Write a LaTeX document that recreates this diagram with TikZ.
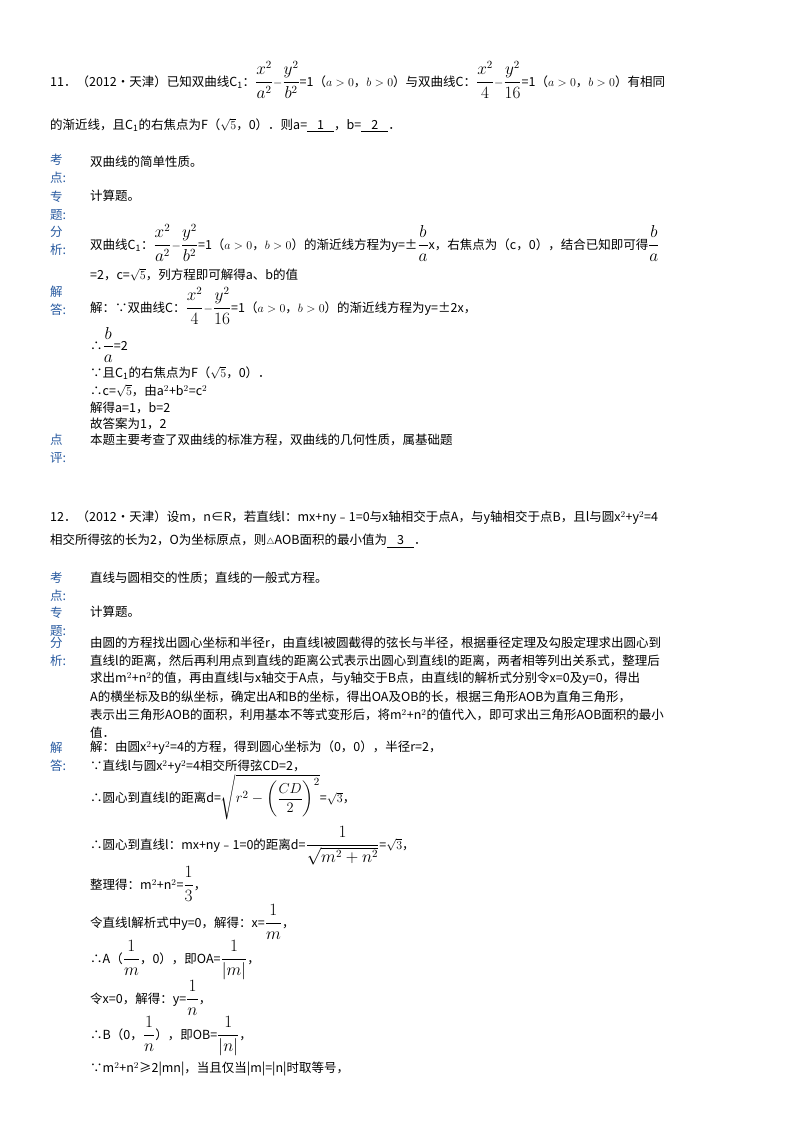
\documentclass[tikz,border=0pt]{standalone}
\usepackage{amsmath,amssymb}
\usepackage{fontspec}
\setmainfont{Noto Sans CJK SC}
\begin{document}
\begin{tikzpicture}[x=1pt,y=-1pt,
 txt/.style={anchor=west,inner sep=0pt,font=\fontsize{12.5}{15}\selectfont},
 lab/.style={anchor=west,inner sep=0pt,text=lbl,font=\fontsize{12.5}{15}\selectfont}]
\definecolor{lbl}{RGB}{40,90,160}
\useasboundingbox[fill=white] (0,0) rectangle (800,1132);
\newcommand{\ans}[1]{\underline{\hspace{10pt}#1\hspace{10pt}}}
\newcommand{\FR}[2]{{\fontsize{16}{18}\selectfont$\dfrac{#1}{#2}$}}
% Problem 11
\node[txt] (a1) at (50,80) {11．（2012•天津）已知双曲线$\mathrm{C_1}$：\FR{x^2}{a^2}$-$\FR{y^2}{b^2}=1（$a>0$，$b>0$）与双曲线$\mathrm{C}$：\FR{x^2}{4}$-$\FR{y^2}{16}=1（$a>0$，$b>0$）有相同};
\node[txt] (a2) at (50,125) {的渐近线，且$\mathrm{C_1}$的右焦点为F（$\sqrt5$，0）．则a=\ans{1}，b=\ans{2}．};
\node[lab] (k1) at (50,160) {考}; \node[lab] (k1b) at (50,178) {点:};
\node[txt] (k1t) at (90,162) {双曲线的简单性质。};
\node[lab] (z1) at (50,197) {专}; \node[lab] (z1b) at (50,215) {题:};
\node[txt] (z1t) at (90,196) {计算题。};
\node[lab] (f1) at (50,232) {分}; \node[lab] (f1b) at (50,250) {析:};
\node[txt] (f1t) at (90,243) {双曲线$\mathrm{C_1}$：\FR{x^2}{a^2}$-$\FR{y^2}{b^2}=1（$a>0$，$b>0$）的渐近线方程为y=±\FR{b}{a}x，右焦点为（c，0），结合已知即可得\FR{b}{a}};
\node[txt] (f1u) at (90,275) {=2，c=$\sqrt5$，列方程即可解得a、b的值};
\node[lab] (j1) at (50,292) {解}; \node[lab] (j1b) at (50,310) {答:};
\node[txt] (j1t) at (90,306) {解：∵双曲线C：\FR{x^2}{4}$-$\FR{y^2}{16}=1（$a>0$，$b>0$）的渐近线方程为y=±2x，};
\node[txt] (j1u) at (90,345) {∴\FR{b}{a}=2};
\node[txt] (j1v) at (90,373) {∵且$\mathrm{C_1}$的右焦点为F（$\sqrt5$，0）．};
\node[txt] (j1w) at (90,391) {∴c=$\sqrt5$，由a$^2$+b$^2$=c$^2$};
\node[txt] (j1x) at (90,408) {解得a=1，b=2};
\node[txt] (j1y) at (90,424) {故答案为1，2};
\node[lab] (d1) at (50,440) {点}; \node[lab] (d1b) at (50,458) {评:};
\node[txt] (d1t) at (90,440) {本题主要考查了双曲线的标准方程，双曲线的几何性质，属基础题};
% Problem 12
\node[txt] (b1) at (50,518) {12．（2012•天津）设m，n∈R，若直线l：mx+ny﹣1=0与x轴相交于点A，与y轴相交于点B，且l与圆x$^2$+y$^2$=4};
\node[txt] (b2) at (50,541) {相交所得弦的长为2，O为坐标原点，则$\scriptstyle\triangle$AOB面积的最小值为\ans{3}．};
\node[lab] (k2) at (50,578) {考}; \node[lab] (k2b) at (50,596) {点:};
\node[txt] (k2t) at (90,578) {直线与圆相交的性质；直线的一般式方程。};
\node[lab] (z2) at (50,613) {专}; \node[lab] (z2b) at (50,631) {题:};
\node[txt] (z2t) at (90,612) {计算题。};
\node[lab] (f2) at (50,643) {分}; \node[lab] (f2b) at (50,661) {析:};
\node[txt] (f2a) at (90,643) {由圆的方程找出圆心坐标和半径r，由直线l被圆截得的弦长与半径，根据垂径定理及勾股定理求出圆心到};
\node[txt] (f2b2) at (90,661) {直线l的距离，然后再利用点到直线的距离公式表示出圆心到直线l的距离，两者相等列出关系式，整理后};
\node[txt] (f2c) at (90,679) {求出m$^2$+n$^2$的值，再由直线l与x轴交于A点，与y轴交于B点，由直线l的解析式分别令x=0及y=0，得出};
\node[txt] (f2d) at (90,697) {A的横坐标及B的纵坐标，确定出A和B的坐标，得出OA及OB的长，根据三角形AOB为直角三角形，};
\node[txt] (f2e) at (90,715) {表示出三角形AOB的面积，利用基本不等式变形后，将m$^2$+n$^2$的值代入，即可求出三角形AOB面积的最小};
\node[txt] (f2f) at (90,733) {值．};
\node[lab] (j2) at (50,748) {解}; \node[lab] (j2b) at (50,766) {答:};
\node[txt] (j2a) at (90,748) {解：由圆x$^2$+y$^2$=4的方程，得到圆心坐标为（0，0），半径r=2，};
\node[txt] (j2c) at (90,767) {∵直线l与圆x$^2$+y$^2$=4相交所得弦CD=2，};
\node[txt] (j2d) at (90,797) {∴圆心到直线l的距离d={\fontsize{15}{18}\selectfont$\sqrt{r^2-\left(\dfrac{CD}{2}\right)^2}$}=$\sqrt3$，};
\node[txt] (j2e) at (90,846) {∴圆心到直线l：mx+ny﹣1=0的距离d=\FR{1}{\sqrt{m^2+n^2}}=$\sqrt3$，};
\node[txt] (j2f) at (90,884) {整理得：m$^2$+n$^2$=\FR{1}{3}，};
\node[txt] (j2g) at (90,922) {令直线l解析式中y=0，解得：x=\FR{1}{m}，};
\node[txt] (j2h) at (90,960) {∴A（\FR{1}{m}，0），即OA=\FR{1}{|m|}，};
\node[txt] (j2i) at (90,998) {令x=0，解得：y=\FR{1}{n}，};
\node[txt] (j2j) at (90,1036) {∴B（0，\FR{1}{n}），即OB=\FR{1}{|n|}，};
\node[txt] (j2k) at (90,1069) {∵m$^2$+n$^2$≥2|mn|，当且仅当|m|=|n|时取等号，};
\end{tikzpicture}
\end{document}
